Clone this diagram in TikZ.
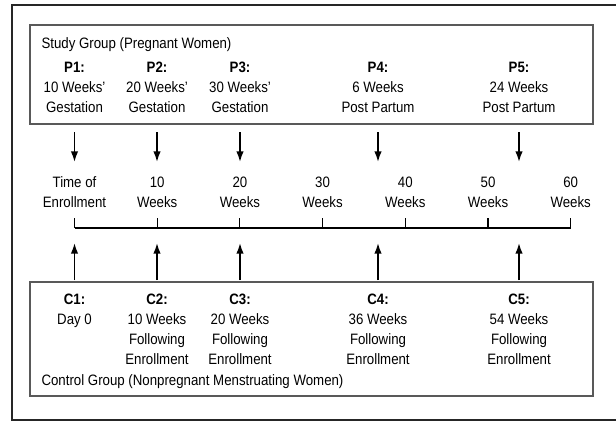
\documentclass[tikz,border=0pt]{standalone}
\usepackage{fontspec}
\setmainfont{Liberation Sans}[FakeStretch=0.88]
\usetikzlibrary{arrows.meta}
\tikzstyle{lbl} = [align=center, inner sep=0pt, anchor=base,
    font=\fontsize{11.3}{15}\selectfont]
\tikzstyle{groupbox} = [draw=black!65, line width=0.9pt]
\tikzstyle{frame} = [draw=black!85, line width=1.5pt]

\begin{document}
\begin{tikzpicture}[x=0.75pt,y=-0.75pt,>={Latex[length=8pt,width=5.6pt]},
                    line width=0.8pt]
  \useasboundingbox (0,0) rectangle (616,422);
  \clip (0,0) rectangle (616,422);
  \draw[frame] (12,5) rectangle (640,420);

  % study group (base = last line)
  \draw[groupbox] (30,25) rectangle (593,124);
  \node[lbl,anchor=base west] (study) at (41,48) {Study Group (Pregnant Women)};
  \node[lbl] (p1) at (74.5,112.5) {\textbf{P1:}\\10 Weeks'\\Gestation};
  \node[lbl] (p2) at (157,112.5)  {\textbf{P2:}\\20 Weeks'\\Gestation};
  \node[lbl] (p3) at (240,112.5)  {\textbf{P3:}\\30 Weeks'\\Gestation};
  \node[lbl] (p4) at (378,112.5)  {\textbf{P4:}\\6 Weeks\\Post Partum};
  \node[lbl] (p5) at (519,112.5)  {\textbf{P5:}\\24 Weeks\\Post Partum};

  % time line
  \node[lbl] (t0) at (74.5,207)  {Time of\\Enrollment};
  \node[lbl] (t1) at (157.2,207) {10\\Weeks};
  \node[lbl] (t2) at (239.9,207) {20\\Weeks};
  \node[lbl] (t3) at (322.6,207) {30\\Weeks};
  \node[lbl] (t4) at (405.3,207) {40\\Weeks};
  \node[lbl] (t5) at (488,207)   {50\\Weeks};
  \node[lbl] (t6) at (570.7,207) {60\\Weeks};
  \foreach \k in {0,...,6}
    \coordinate (k\k) at (74.5+82.7*\k,228);
  \draw[line width=1pt] (k0) -- (k6);
  \foreach \k in {0,...,6}
    \draw (k\k) -- ++(0,-10.5);

  % control group
  \draw[groupbox] (30,282) rectangle (593,396);
  \node[lbl] (c1) at (74.5,324) {\textbf{C1:}\\Day 0};
  \node[lbl] (c2) at (157,364)  {\textbf{C2:}\\10 Weeks\\Following\\Enrollment};
  \node[lbl] (c3) at (240,364)  {\textbf{C3:}\\20 Weeks\\Following\\Enrollment};
  \node[lbl] (c4) at (378,364)  {\textbf{C4:}\\36 Weeks\\Following\\Enrollment};
  \node[lbl] (c5) at (519,364)  {\textbf{C5:}\\54 Weeks\\Following\\Enrollment};
  \node[lbl,anchor=base west] (control) at (41,385)
    {Control Group (Nonpregnant Menstruating Women)};

  % arrows
  \foreach \i/\x in {1/74.5,2/157,3/240,4/378,5/519} {
    \coordinate (da\i) at (\x,132);
    \coordinate (db\i) at (\x,162);
    \coordinate (ua\i) at (\x,280);
    \coordinate (ub\i) at (\x,243);
  }
  \path[->,line width=1.2pt]
    (da1) edge (db1) (da2) edge (db2) (da3) edge (db3)
    (da4) edge (db4) (da5) edge (db5)
    (ua1) edge (ub1) (ua2) edge (ub2) (ua3) edge (ub3)
    (ua4) edge (ub4) (ua5) edge (ub5);
\end{tikzpicture}
\end{document}
